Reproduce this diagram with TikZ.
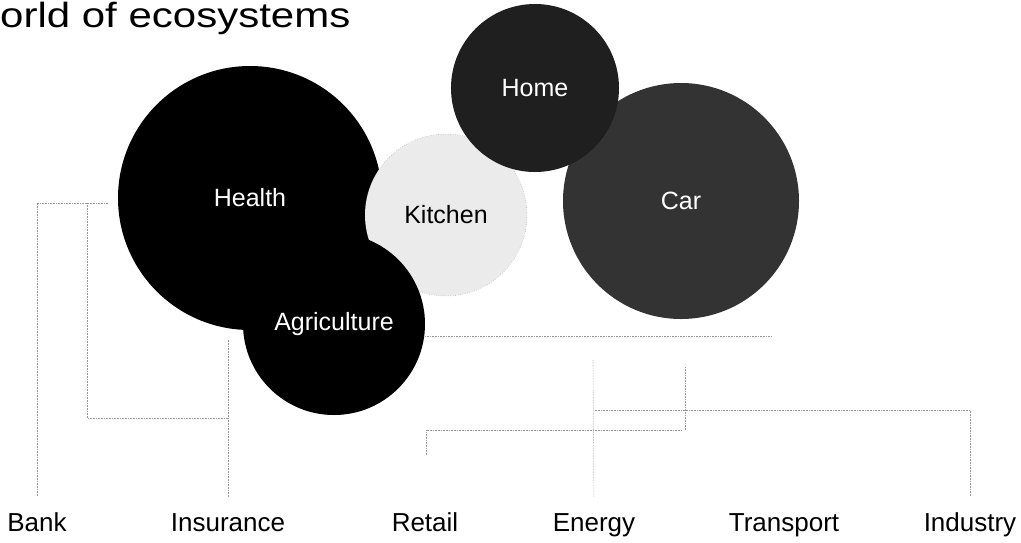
\documentclass[tikz,border=0pt]{standalone}
\usepackage{fontspec}
\setmainfont{Liberation Sans}
\newfontfamily\titlefont[FakeStretch=1.2]{Liberation Sans}
\tikzset{
  eco/.style={circle,inner sep=0pt,text=white,font=\fontsize{25}{30}\selectfont},
  sector/.style={anchor=base,inner sep=0pt,font=\fontsize{26}{30}\selectfont},
  tie/.style={densely dotted,gray!80,line width=0.6pt}
}
\begin{document}
\begin{tikzpicture}[x=1pt,y=-1pt]
\useasboundingbox (0,0) rectangle (1021,542);
\node[anchor=base west,inner sep=0pt,font=\titlefont\fontsize{35}{40}\selectfont] (title) at (0,27) {orld of ecosystems};
% circles
\node[eco,fill=black,minimum size=264pt] (health) at (250,198) {Health};
\node[eco,fill=black!8,draw=gray,dotted,text=black,minimum size=162pt] (kitchen) at (446,215) {Kitchen};
\node[eco,fill=black,minimum size=182pt] (agri) at (334,324) {Agriculture};
\node[eco,fill=black!80,minimum size=236pt] (car) at (681,201) {Car};
\node[eco,fill=black!88,minimum size=168pt] (home) at (535,88) {Home};
% sectors
\node[sector] (bank) at (37,531) {Bank};
\node[sector] (insurance) at (228,531) {Insurance};
\node[sector] (retail) at (425,531) {Retail};
\node[sector] (energy) at (594,531) {Energy};
\node[sector] (transport) at (784,531) {Transport};
\node[sector] (industry) at (970,531) {Industry};
% links
\coordinate (bk) at (87,203);
\coordinate (hl) at (108,203);
\coordinate (ij) at (228,418);
\coordinate (it) at (228,340);
\coordinate (ae) at (772,336);
\coordinate (et) at (593,360);
\coordinate (tj) at (685,367);
\coordinate (rj) at (426,430);
\coordinate (rt) at (426,455);
\coordinate (nj) at (595,410);
\draw[tie,shorten <=16pt] (bank.north) |- (hl);
\draw[tie] (bk) |- (ij);
\draw[tie,shorten <=16pt] (insurance.north) -- (it);
\draw[tie] (agri.east |- ae) -- (ae);
\draw[tie,shorten <=16pt] (energy.north) -- (et);
\draw[tie] (tj) -- (685,430);
\draw[tie] (rt) -- (rj) -- (682,430);
\draw[tie,shorten <=16pt] (industry.north) |- (nj);
\end{tikzpicture}
\end{document}
